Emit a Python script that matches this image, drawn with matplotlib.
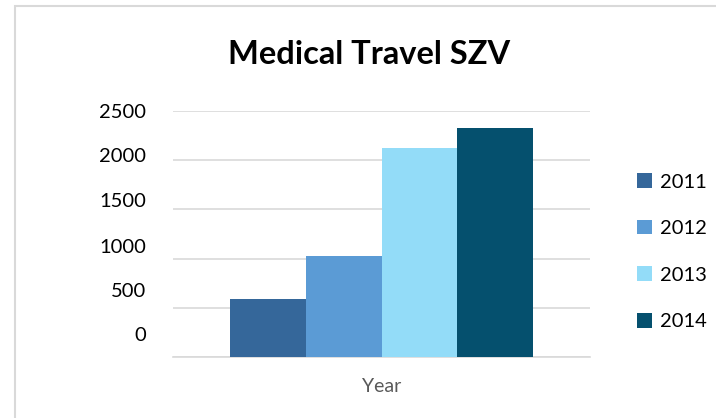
import matplotlib
matplotlib.use("Agg")
import matplotlib.pyplot as plt
from matplotlib.patches import Rectangle, Patch
from matplotlib.transforms import ScaledTranslation

years = ["2011", "2012", "2013", "2014"]
values = [590, 1025, 2125, 2330]
colors = ["#35679a", "#5b9bd5", "#93dcf8", "#05506e"]
yticks = [0, 500, 1000, 1500, 2000, 2500]
category = "Year"
title = "Medical Travel SZV"

plt.rcParams['font.family'] = ['Lato', 'DejaVu Sans']

fig = plt.figure(figsize=(7.16, 4.18), dpi=100)
W, H = 716, 418
# chart border (only left and top visible)
fig.patches.append(Rectangle((15 / W, -1), 2, 2 - 6 / H, transform=fig.transFigure,
                             fill=False, edgecolor="#d9d9d9", linewidth=1.5))

ax = fig.add_axes([173 / W, 61 / H, 417 / W, 246 / H])
w = 0.182
n = len(values)
for i, (yr, v, c) in enumerate(zip(years, values, colors)):
    ax.bar((i - (n - 1) / 2) * w, v, width=w, color=c, label=yr, zorder=3)

ax.set_xlim(-0.5, 0.5)
ax.set_ylim(0, 2500)
ax.set_yticks(yticks)
ax.set_yticklabels([str(t) for t in yticks], fontsize=14.5, color="#000000")
ax.tick_params(axis='y', length=0, pad=19.5)
ax.set_xticks([0])
ax.set_xticklabels([category], fontsize=14, color="#595959")
ax.tick_params(axis='x', length=0, pad=15)
ax.grid(axis='y', color="#d9d9d9", linewidth=1.2, zorder=0)
for s in ["top", "right", "left"]:
    ax.spines[s].set_visible(False)
ax.spines["bottom"].set_color("#d9d9d9")
ax.spines["bottom"].set_linewidth(1.2)

# label offsets (pixels upward) as in reference
offs = [23, 18, 13, 9, 5, 0]
for lab, o in zip(ax.get_yticklabels(), offs):
    lab.set_transform(lab.get_transform() + ScaledTranslation(0, o / 100, fig.dpi_scale_trans))
    lab.set_horizontalalignment('right')

fig.text(369 / W, 1 - 54 / H, title, fontsize=23.5, fontweight='bold', ha='center', va='center')

handles = [Patch(facecolor=c, label=y) for y, c in zip(years, colors)]
leg = fig.legend(handles=handles, loc='upper left', bbox_to_anchor=(619 / W, 1 - 155 / H),
                 frameon=False, fontsize=14.5, labelspacing=1.45, handlelength=0.75,
                 handleheight=0.75, handletextpad=0.4)

fig.savefig("out.png", dpi=100)
